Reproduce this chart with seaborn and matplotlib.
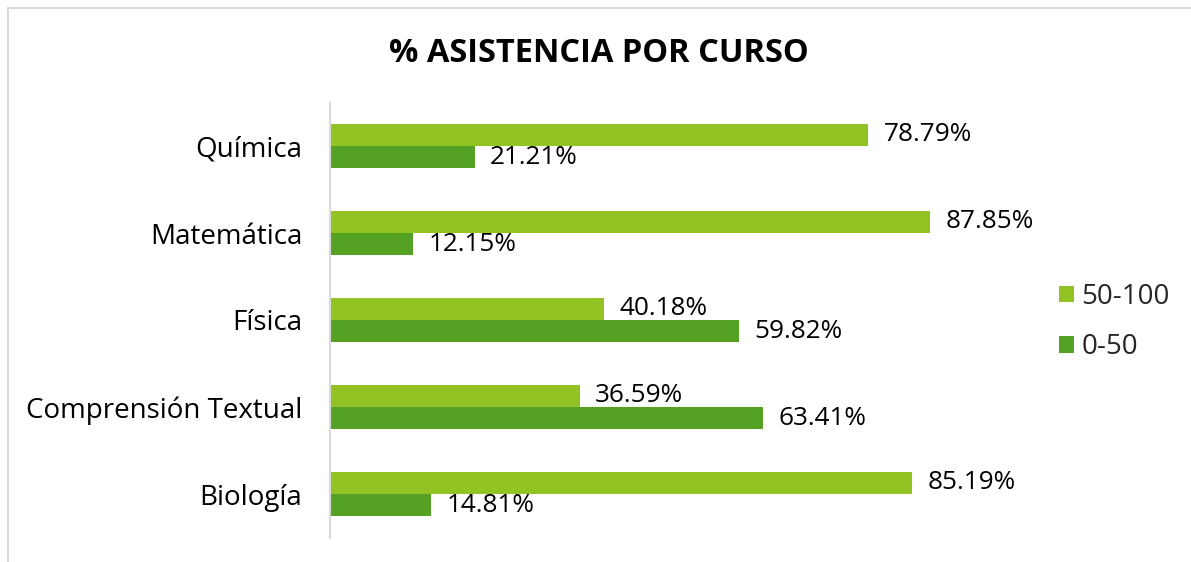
import matplotlib
matplotlib.use("Agg")
import matplotlib.pyplot as plt
from matplotlib.lines import Line2D
from matplotlib.patches import Patch
import seaborn as sns
import pandas as pd

cursos = ["Química", "Matemática", "Física", "Comprensión Textual", "Biología"]
rangos = ["50-100", "0-50"]
valores_50_100 = [78.79, 87.85, 40.18, 36.59, 85.19]
valores_0_50 = [21.21, 12.15, 59.82, 63.41, 14.81]
colores = ["#93C225", "#55A124"]
titulo = "% ASISTENCIA POR CURSO"

df = pd.DataFrame({
    "curso": cursos * 2,
    "rango": [rangos[0]] * len(cursos) + [rangos[1]] * len(cursos),
    "valor": valores_50_100 + valores_0_50,
})

sns.set_style("white")
plt.rcParams["font.family"] = ["Open Sans", "DejaVu Sans"]

W, H = 1191, 562
fig = plt.figure(figsize=(W / 100, H / 100), dpi=100)
ax = fig.add_axes([330 / W, 1 - 537.5 / H, 683 / W, 435 / H])

sns.barplot(data=df, y="curso", x="valor", hue="rango", hue_order=rangos,
            order=cursos, orient="h", palette=colores, width=0.506,
            saturation=1, linewidth=0, edgecolor="none", ax=ax, legend=False)

for cont in ax.containers:
    ax.bar_label(cont, labels=[f"{v:.2f}%" for v in cont.datavalues],
                 padding=11, fontsize=18.8, color="#000000")

ax.set_xlim(0, 100)
ax.set_ylim(4.5, -0.5)
ax.set_xlabel("")
ax.set_ylabel("")
ax.set_xticks([])
ax.tick_params(axis="y", length=0, pad=20, labelsize=20, labelcolor="#000000")
for s in ["top", "right", "bottom"]:
    ax.spines[s].set_visible(False)
ax.spines["left"].set_color("#D9D9D9")
ax.spines["left"].set_linewidth(1.5)

handles = [Patch(facecolor=c, edgecolor="none") for c in colores]
fig.legend(handles, rangos, loc="center left", bbox_to_anchor=(1034 / W, 1 - 322 / H),
           frameon=False, fontsize=20, handlelength=0.55, handleheight=0.55,
           handletextpad=0.25, labelspacing=0.8)

fig.text(599 / W, 1 - 54 / H, titulo, ha="center", va="center",
         fontsize=23.5, fontweight="bold", color="#000000")

fig.add_artist(Line2D([7.5 / W, 7.5 / W], [0, 1 - 7.5 / H], transform=fig.transFigure,
                      color="#D9D9D9", lw=1.5))
fig.add_artist(Line2D([7.5 / W, 1], [1 - 7.5 / H, 1 - 7.5 / H], transform=fig.transFigure,
                      color="#D9D9D9", lw=1.5))

fig.savefig("out.png", dpi=100, facecolor="white")
